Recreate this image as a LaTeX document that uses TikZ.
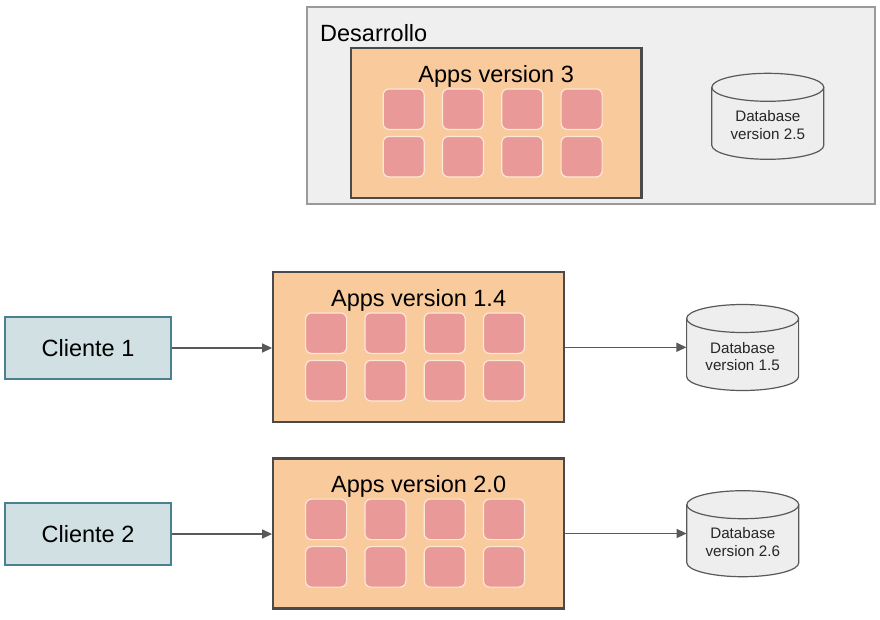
\documentclass[tikz,border=0pt]{standalone}
\usepackage{fontspec}
\setmainfont{Liberation Sans}
\usetikzlibrary{arrows.meta,calc}
\definecolor{devfill}{HTML}{EFEFEF}
\definecolor{devline}{HTML}{9A9A9A}
\definecolor{appfill}{HTML}{F9CB9C}
\definecolor{appline}{HTML}{4A4A4A}
\definecolor{sqfill}{HTML}{EA9999}
\definecolor{sqline}{HTML}{FCE8D6}
\definecolor{clfill}{HTML}{D0E0E3}
\definecolor{clline}{HTML}{4A818E}
\definecolor{dbfill}{HTML}{EEEEEE}
\definecolor{dbline}{HTML}{595959}
\definecolor{arrline}{HTML}{595959}
\tikzset{
  bigtext/.style={font=\fontsize{23.5}{28}\selectfont, text=black, inner sep=0pt},
  dbtext/.style={font=\fontsize{15.2}{18}\selectfont, text=black!85, inner sep=0pt, anchor=base},
  devbox/.style={draw=devline, fill=devfill, line width=1.5pt, minimum width=568pt, minimum height=197pt, inner sep=0pt},
  appbox/.style={draw=appline, fill=appfill, line width=2.3pt, minimum width=290.7pt, minimum height=150pt, inner sep=0pt},
  sqbox/.style={draw=sqline, fill=sqfill, line width=1.2pt, rounded corners=6pt, minimum width=41pt, minimum height=40.5pt, inner sep=0pt},
  clbox/.style={draw=clline, fill=clfill, line width=2pt, minimum width=166pt, minimum height=62pt, inner sep=0pt},
  dbbox/.style={minimum width=112pt, minimum height=86pt, inner sep=0pt},
  conn/.style={draw=arrline, line width=1.4pt, -{Triangle[length=10pt,width=9pt]}},
}
\newcommand\dbdraw[2]{%
  \fill[dbfill] (#1-56,#2-29) -- (#1-56,#2+29)
    arc[start angle=180,end angle=0,x radius=56,y radius=14]
    -- (#1+56,#2-29)
    arc[start angle=0,end angle=-180,x radius=56,y radius=14] -- cycle;
  \draw[dbline, line width=1.2pt] (#1-56,#2-29) -- (#1-56,#2+29)
    arc[start angle=180,end angle=0,x radius=56,y radius=14]
    -- (#1+56,#2-29);
  \draw[dbline, line width=1.2pt] (#1,#2-29) ellipse[x radius=56,y radius=14];
}
\begin{document}
\begin{tikzpicture}[x=1pt,y=-1pt]
\useasboundingbox[fill=white] (0,0) rectangle (880,619);

% Desarrollo
\node[devbox] (dev) at (591.2,105.5) {};
\node[bigtext, anchor=base west] (devlbl) at (320,41.7) {Desarrollo};

% Apps boxes
\node[appbox] (apps3) at (496.2,123.3) {};
\node[appbox] (apps14) at (418.6,347.3) {};
\node[appbox] (apps20) at (418.6,533.5) {};
\node[bigtext, anchor=base] (apps3lbl) at ($(apps3.north)+(0,35.4)$) {Apps version 3};
\node[bigtext, anchor=base] (apps14lbl) at ($(apps14.north)+(0,35.4)$) {Apps version 1.4};
\node[bigtext, anchor=base] (apps20lbl) at ($(apps20.north)+(0,35.4)$) {Apps version 2.0};
\foreach \b in {apps3,apps14,apps20}{
  \foreach \i in {0,1,2,3}{
    \foreach \j in {0,1}{
      \node[sqbox] (\b-sq-\i-\j) at ($(\b.north west)+(54+59.3*\i,62+47.5*\j)$) {};
    }
  }
}

% Clients
\node[clbox] (cl1) at (88,348) {};
\node[clbox] (cl2) at (88,534) {};
\node[bigtext, anchor=base] (cl1lbl) at ($(cl1.center)+(0,8.7)$) {Cliente 1};
\node[bigtext, anchor=base] (cl2lbl) at ($(cl2.center)+(0,8.7)$) {Cliente 2};

% Databases
\dbdraw{767.8}{116.3}
\dbdraw{742.6}{347.5}
\dbdraw{742.8}{533.7}
\node[dbbox] (db25) at (767.8,116.3) {};
\node[dbbox] (db15) at (742.6,347.5) {};
\node[dbbox] (db26) at (742.8,533.7) {};
\node[dbtext] (db25a) at ($(db25.center)+(0,5.6)$) {Database};
\node[dbtext] (db25b) at ($(db25.center)+(0,22.8)$) {version 2.5};
\node[dbtext] (db15a) at ($(db15.center)+(0,5.8)$) {Database};
\node[dbtext] (db15b) at ($(db15.center)+(0,23)$) {version 1.5};
\node[dbtext] (db26a) at ($(db26.center)+(0,4.6)$) {Database};
\node[dbtext] (db26b) at ($(db26.center)+(0,22.4)$) {version 2.6};

% Connectors
\draw[conn] (cl1.east) -- (cl1.east -| apps14.west);
\draw[conn] (cl2.east) -- (cl2.east -| apps20.west);
\draw[conn] (apps14.east) -- (apps14.east -| db15.west);
\draw[conn] (apps20.east) -- (apps20.east -| db26.west);
\end{tikzpicture}
\end{document}
